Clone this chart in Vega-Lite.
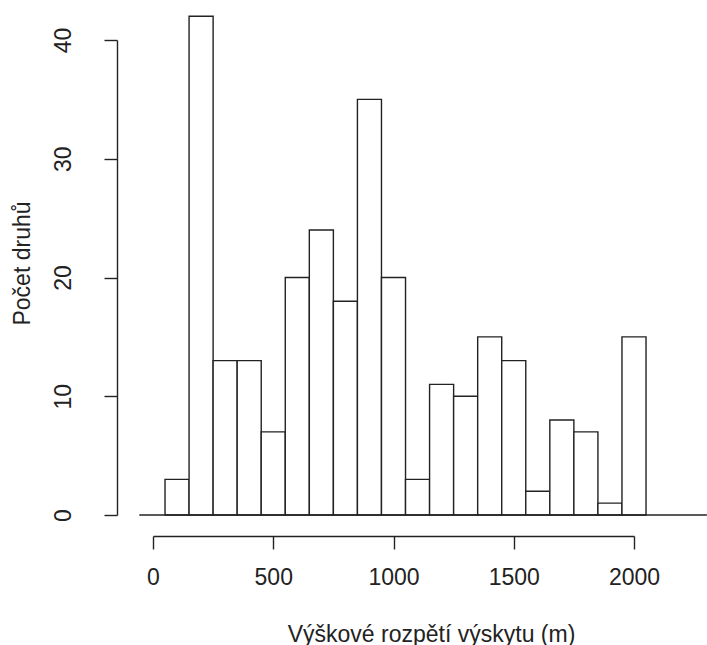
{
  "$schema": "https://vega.github.io/schema/vega-lite/v6.json",
  "autosize": "none",
  "width": 481,
  "height": 475,
  "padding": {"left": 153, "top": 40, "right": 73, "bottom": 130},
  "background": "white",
  "config": {
    "view": {"stroke": null},
    "font": "Liberation Sans",
    "axis": {
      "domainColor": "#222",
      "domainWidth": 1.4,
      "tickColor": "#222",
      "tickWidth": 1.4,
      "tickSize": 13,
      "grid": false,
      "labelFont": "Liberation Sans",
      "labelFontSize": 23,
      "labelColor": "#222",
      "labelFlush": false,
      "labelOverlap": false,
      "titleFont": "Liberation Sans",
      "titleFontSize": 23,
      "titleFontWeight": "normal",
      "titleColor": "#222"
    }
  },
  "datasets": {
    "bins": [
      {"start": 50, "end": 150, "count": 3},
      {"start": 150, "end": 250, "count": 42},
      {"start": 250, "end": 350, "count": 13},
      {"start": 350, "end": 450, "count": 13},
      {"start": 450, "end": 550, "count": 7},
      {"start": 550, "end": 650, "count": 20},
      {"start": 650, "end": 750, "count": 24},
      {"start": 750, "end": 850, "count": 18},
      {"start": 850, "end": 950, "count": 35},
      {"start": 950, "end": 1050, "count": 20},
      {"start": 1050, "end": 1150, "count": 3},
      {"start": 1150, "end": 1250, "count": 11},
      {"start": 1250, "end": 1350, "count": 10},
      {"start": 1350, "end": 1450, "count": 15},
      {"start": 1450, "end": 1550, "count": 13},
      {"start": 1550, "end": 1650, "count": 2},
      {"start": 1650, "end": 1750, "count": 8},
      {"start": 1750, "end": 1850, "count": 7},
      {"start": 1850, "end": 1950, "count": 1},
      {"start": 1950, "end": 2050, "count": 15}
    ],
    "baseline": [{"from": -57, "to": 2303, "level": 0}]
  },
  "layer": [
    {
      "data": {"name": "bins"},
      "mark": {"type": "bar", "fill": "white", "stroke": "#222", "strokeWidth": 1.4},
      "encoding": {
        "x": {
          "field": "start",
          "type": "quantitative",
          "scale": {"domain": [0, 2000], "nice": false, "zero": false},
          "axis": {
            "values": [0, 500, 1000, 1500, 2000],
            "format": "d",
            "offset": 21,
            "labelPadding": 17,
            "title": "Výškové rozpětí výskytu (m)",
            "titlePadding": 34,
            "titleX": 278
          }
        },
        "x2": {"field": "end"},
        "y": {
          "field": "count",
          "type": "quantitative",
          "scale": {"domain": [0, 40], "nice": false},
          "axis": {
            "values": [0, 10, 20, 30, 40],
            "format": "d",
            "offset": 36,
            "labelAngle": 270,
            "labelAlign": "center",
            "labelBaseline": "bottom",
            "labelPadding": 29,
            "title": "Počet druhů",
            "titlePadding": 18,
            "titleY": 223
          }
        },
        "y2": {"datum": 0}
      }
    },
    {
      "data": {"name": "baseline"},
      "mark": {"type": "rule", "stroke": "#222", "strokeWidth": 1.4},
      "encoding": {
        "x": {"field": "from", "type": "quantitative"},
        "x2": {"field": "to"},
        "y": {"field": "level", "type": "quantitative"}
      }
    }
  ]
}
